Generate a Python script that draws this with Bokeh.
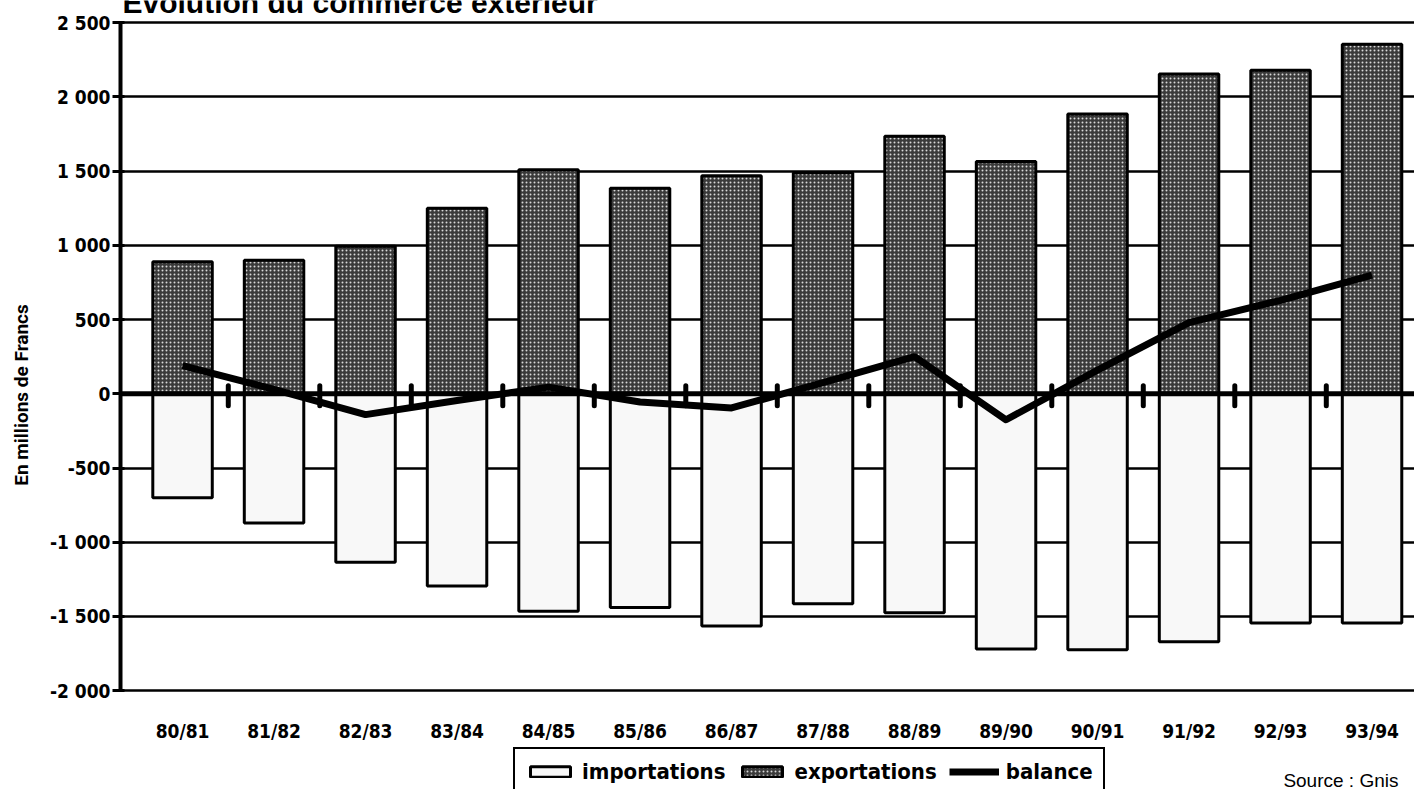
from bokeh.plotting import figure
from bokeh.models import Range1d, FixedTicker, Label, Legend, LegendItem, Span
from bokeh.core.properties import value
from bokeh.embed import file_html
from bokeh.resources import INLINE

# ---- data ----
years = ["80/81", "81/82", "82/83", "83/84", "84/85", "85/86", "86/87",
         "87/88", "88/89", "89/90", "90/91", "91/92", "92/93", "93/94"]
exportations = [890, 900, 995, 1250, 1510, 1385, 1470, 1490, 1735, 1565, 1885, 2155, 2180, 2355]
importations = [-700, -870, -1135, -1295, -1465, -1440, -1565, -1415, -1475, -1720, -1725, -1670, -1545, -1545]
balance = [190, 30, -140, -45, 45, -55, -95, 75, 250, -175, 160, 480, 630, 800]
y_ticks = [-2000, -1500, -1000, -500, 0, 500, 1000, 1500, 2000, 2500]
y_tick_labels = ["-2 000", "-1 500", "-1 000", "-500", "0", "500", "1 000", "1 500", "2 000", "2 500"]
title_text = "Évolution du commerce extérieur"
y_label_text = "En millions de Francs"
source_text = "Source : Gnis"

xs = list(range(len(years)))
boundaries = [i + 0.5 for i in range(len(years) - 1)]

NARROW = "'Liberation Sans Narrow', 'DejaVu Sans Condensed', 'Roboto Condensed', 'Liberation Sans', sans-serif"

# frame spans the whole canvas height; the y axis sits in the left panel
p = figure(width=1414, height=789, output_backend="svg", toolbar_location=None,
           x_axis_location=None,
           x_range=Range1d(-0.678, 13.464), y_range=Range1d(-2666, 2650),
           min_border_left=120, min_border_right=0, min_border_top=0, min_border_bottom=0)
p.outline_line_color = None
p.background_fill_color = "white"
p.border_fill_color = "white"

# grid
p.xgrid.visible = False
p.ygrid.ticker = FixedTicker(ticks=y_ticks)
p.ygrid.grid_line_color = "black"
p.ygrid.grid_line_width = 2.5

# y axis
p.yaxis.ticker = FixedTicker(ticks=y_ticks)
p.yaxis.bounds = (y_ticks[0], y_ticks[-1])
p.yaxis.major_label_overrides = {t: l for t, l in zip(y_ticks, y_tick_labels)}
p.yaxis.axis_line_width = 4
p.yaxis.axis_line_color = "black"
p.yaxis.major_tick_line_width = 3
p.yaxis.major_tick_out = 8
p.yaxis.major_tick_in = 4
p.yaxis.minor_tick_line_color = None
p.yaxis.major_label_standoff = 2
p.yaxis.major_label_text_font = NARROW
p.yaxis.major_label_text_font_style = "bold"
p.yaxis.major_label_text_font_size = "19px"
p.yaxis.major_label_text_color = "black"
p.yaxis.axis_label = y_label_text
p.yaxis.axis_label_text_font = "Roboto"
p.yaxis.axis_label_text_font_style = "bold"
p.yaxis.axis_label_text_font_size = "19px"
p.yaxis.axis_label_text_color = "black"
p.yaxis.axis_label_standoff = 14

# bars
exp_r = p.vbar(x=xs, top=exportations, bottom=0, width=0.65,
               fill_color="#3a3a3a", hatch_pattern="dot", hatch_color="#d8d8d8",
               hatch_scale=4, hatch_weight=1.4,
               line_color="black", line_width=3)
imp_r = p.vbar(x=xs, top=0, bottom=importations, width=0.65,
               fill_color="#f8f8f8", line_color="black", line_width=3)

# zero axis line and boundary ticks
p.add_layout(Span(location=0, dimension="width", line_color="black", line_width=5))
p.segment(x0=boundaries, y0=-80, x1=boundaries, y1=55, line_color="black",
          line_width=5, line_cap="round")

# balance line
bal_r = p.line(xs, balance, line_color="black", line_width=7, line_join="round")

# category labels under the -2 000 line
p.text(x=xs, y=-2275, text=years, text_font=value(NARROW), text_font_style="bold",
       text_font_size="19px", text_color="black", text_align="center",
       text_baseline="middle")

# legend
legend = Legend(items=[LegendItem(label="importations", renderers=[imp_r]),
                       LegendItem(label="exportations", renderers=[exp_r]),
                       LegendItem(label="balance", renderers=[bal_r])],
                orientation="horizontal", location=(393, -7))
legend.border_line_color = "black"
legend.border_line_alpha = 1.0
legend.border_line_width = 2.5
legend.background_fill_color = "white"
legend.background_fill_alpha = 1
legend.label_text_font = NARROW
legend.label_text_font_style = "bold"
legend.label_text_font_size = "22px"
legend.label_text_color = "black"
legend.glyph_width = 50
legend.glyph_height = 13
legend.padding = 10
legend.spacing = 12
legend.margin = 0
legend.label_standoff = 7
p.add_layout(legend)

# texts
p.add_layout(Label(x=-0.656, y=2528, text=title_text, text_font="Liberation Sans",
                   text_font_style="bold", text_font_size="30px", text_color="black",
                   text_baseline="bottom", text_align="left"))
p.add_layout(Label(x=12.66, y=-2605, text=source_text,
                   text_font="Liberation Sans", text_font_size="19px", text_color="black",
                   text_align="center", text_baseline="middle"))

open("out.html", "w").write(file_html(p, INLINE))
